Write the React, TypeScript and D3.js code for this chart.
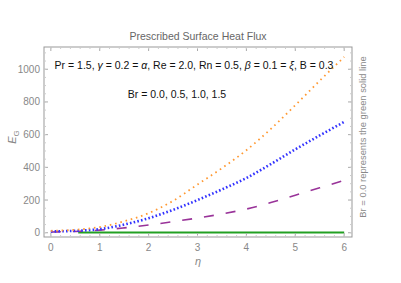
import React from "react";
import * as d3 from "d3";

const eta = [0, 0.5, 1, 1.5, 2, 2.5, 3, 3.5, 4, 4.5, 5, 5.5, 6];
const br15 = [12, 18, 35, 70, 120, 195, 295, 395, 505, 635, 780, 930, 1075];
const br10 = [8, 12, 22, 50, 89, 140, 200, 265, 335, 420, 510, 595, 678];
const br05 = [5, 8, 16, 30, 47, 68, 90, 115, 145, 185, 230, 275, 320];
const etaGreen = [0.56, 6];
const br00 = [2, 2];
const xTicks = [0, 1, 2, 3, 4, 5, 6];
const yTicks = [0, 200, 400, 600, 800, 1000];

const W = 401, H = 283;
const L = 44, R = 352, T = 47, B = 237;

export default function App() {
  const x = d3.scaleLinear().domain([-0.14, 6.16]).range([L, R]);
  const y = d3.scaleLinear().domain([-26, 1136]).range([B, T]);
  const line = (xs: number[], ys: number[]) =>
    d3.line<number>().x((_, i) => x(xs[i])).y((d) => y(d)).curve(d3.curveMonotoneX)(ys) || "";
  const font = "Liberation Sans, Arial, sans-serif";
  const gray = "#888";
  const xMinor = d3.range(0, 6.01, 0.2);
  const yMinor = d3.range(0, 1101, 50);
  return (
    <svg width={W} height={H} style={{ position: "absolute", left: 0, top: 0 }} fontFamily={font}>
      <rect width={W} height={H} fill="#fff" />
      <defs>
        <clipPath id="clip"><rect x={L} y={T} width={R - L} height={B - T} /></clipPath>
      </defs>
      <text x={198} y={40} textAnchor="middle" fontSize={10.5} fill="#666">Prescribed Surface Heat Flux</text>
      <g clipPath="url(#clip)">
        <path d={line(etaGreen, br00)} fill="none" stroke="#22a022" strokeWidth={2} />
        <path d={line(eta, br05)} fill="none" stroke="#993399" strokeWidth={1.6} strokeDasharray="10,12" />
        <path d={line(eta, br10)} fill="none" stroke="#3333ff" strokeWidth={2.6} strokeDasharray="1.6,2.2" />
        <path d={line(eta, br15)} fill="none" stroke="#ff9933" strokeWidth={1.8} strokeDasharray="1.6,3.8" />
      </g>
      <rect x={L} y={T} width={R - L} height={B - T} fill="none" stroke="#999" strokeWidth={1} />
      {xTicks.map((t) => (
        <g key={"x" + t}>
          <line x1={x(t)} x2={x(t)} y1={B} y2={B - 4} stroke="#aaa" />
          <line x1={x(t)} x2={x(t)} y1={T} y2={T + 4} stroke="#aaa" />
          <text x={x(t)} y={251} textAnchor="middle" fontSize={10} fill={gray}>{t}</text>
        </g>
      ))}
      {xMinor.map((t, i) => (
        <g key={"xm" + i}>
          <line x1={x(t)} x2={x(t)} y1={B} y2={B - 2} stroke="#ccc" />
          <line x1={x(t)} x2={x(t)} y1={T} y2={T + 2} stroke="#ccc" />
        </g>
      ))}
      {yTicks.map((t) => (
        <g key={"y" + t}>
          <line x1={L} x2={L + 4} y1={y(t)} y2={y(t)} stroke="#aaa" />
          <line x1={R} x2={R - 4} y1={y(t)} y2={y(t)} stroke="#aaa" />
          <text x={40} y={y(t) + 3.5} textAnchor="end" fontSize={10} fill={gray}>{t}</text>
        </g>
      ))}
      {yMinor.map((t, i) => (
        <g key={"ym" + i}>
          <line x1={L} x2={L + 2} y1={y(t)} y2={y(t)} stroke="#ccc" />
          <line x1={R} x2={R - 2} y1={y(t)} y2={y(t)} stroke="#ccc" />
        </g>
      ))}
      <text x={198} y={265} textAnchor="middle" fontSize={11} fill={gray} fontStyle="italic">η</text>
      <text transform={`translate(16,137) rotate(-90)`} textAnchor="middle" fontSize={11} fill={gray}>
        <tspan fontStyle="italic">E</tspan><tspan fontSize={8} dy={3}>G</tspan>
      </text>
      <text transform={`translate(366,137) rotate(-90)`} textAnchor="middle" fontSize={9.4} fill={gray}>
        Br = 0.0 represents the green solid line
      </text>
      <text x={194} y={69} textAnchor="middle" fontSize={10.5} fill="#111">
        Pr = 1.5, <tspan fontStyle="italic">γ</tspan> = 0.2 = <tspan fontStyle="italic">α</tspan>, Re = 2.0, Rn = 0.5, <tspan fontStyle="italic">β</tspan> = 0.1 = <tspan fontStyle="italic">ξ</tspan>, B = 0.3
      </text>
      <text x={177} y={98} textAnchor="middle" fontSize={10.5} fill="#111">Br = 0.0, 0.5, 1.0, 1.5</text>
    </svg>
  );
}
